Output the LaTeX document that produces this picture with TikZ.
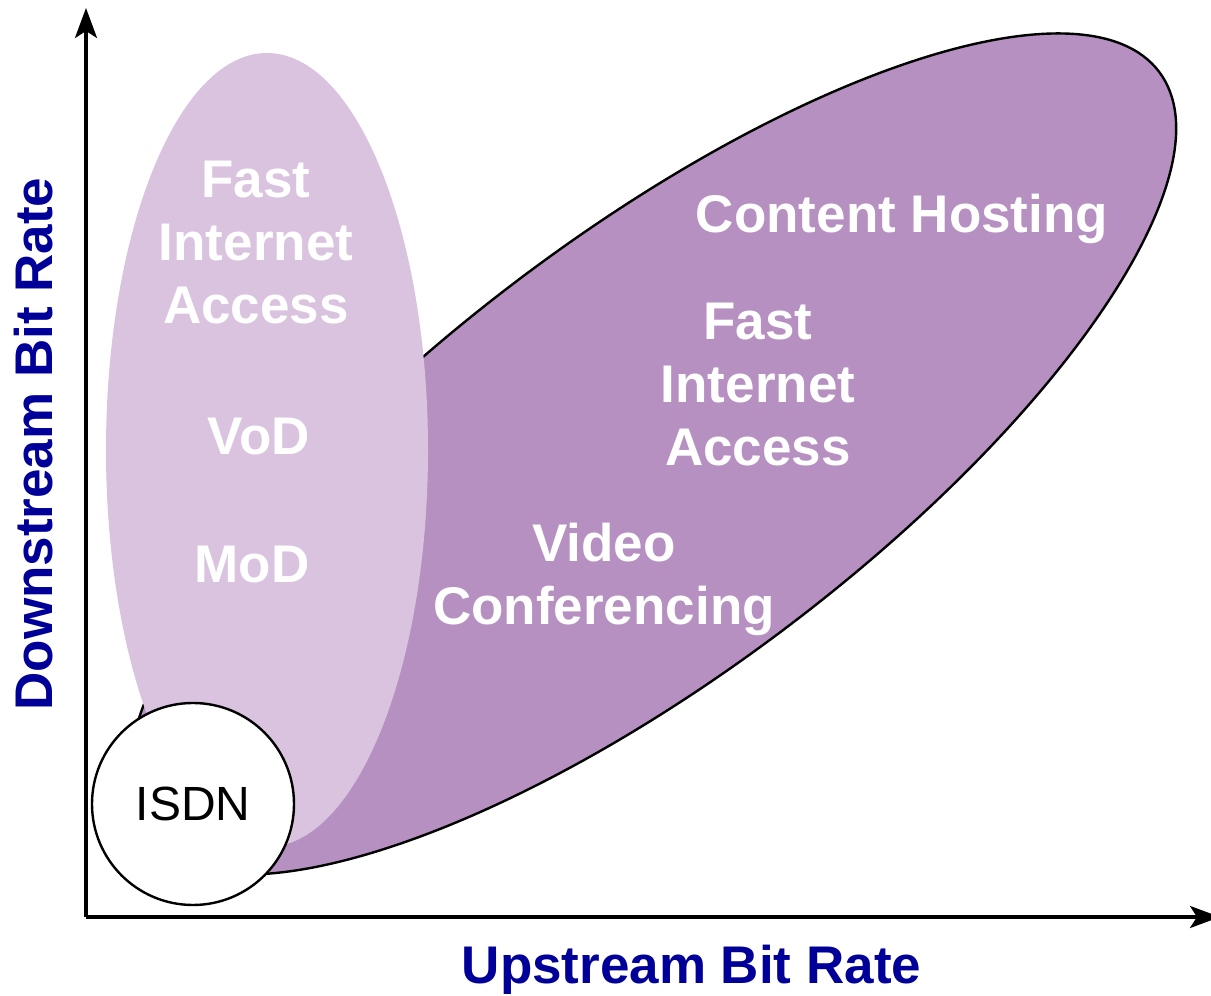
\documentclass[tikz,border=0pt]{standalone}
\usepackage{fontspec}
\setmainfont{Liberation Sans}
\usetikzlibrary{arrows.meta}
\definecolor{lightpurple}{RGB}{217,195,223}
\definecolor{darkpurple}{RGB}{181,144,192}
\definecolor{axisblue}{RGB}{0,0,153}
\begin{document}
\begin{tikzpicture}[x=0.5pt,y=0.5pt,
  biglabel/.style={text=white, font=\fontsize{26.5}{31.5}\selectfont\bfseries, anchor=base, inner sep=0pt},
  axislabel/.style={text=axisblue, font=\fontsize{26.5}{31.5}\selectfont\bfseries, anchor=base, inner sep=0pt},
  axisline/.style={line width=1.6pt, -{Stealth[length=15pt,width=11pt,inset=3.5pt]}},
  region/.style={line width=1.2pt},
]
\useasboundingbox (0,0) rectangle (1211,996);
% axes
\coordinate (O) at (86,79);
\coordinate (ytop) at (86,988);
\coordinate (xend) at (1220,79);
\draw[axisline] (O) -- (ytop);
\draw[axisline] (O) -- (xend);
% dark (symmetric-upstream) region
\filldraw[region, fill=darkpurple, draw=black, rotate around={37:(652,542)}]
  (652,542) ellipse [x radius=635, y radius=219.5];
% light (asymmetric) region
\fill[lightpurple] (267,546) ellipse [x radius=161, y radius=397];
% ISDN
\node[circle, draw=black, fill=white, region, minimum size=101pt, inner sep=0pt,
      font=\fontsize{24}{28}\selectfont] (isdn) at (193,192) {ISDN};
% labels in light region
\node[biglabel] (fia1) at (256,798) {\begin{tabular}[t]{@{}c@{}}Fast\\Internet\\Access\end{tabular}};
\node[biglabel] (vod) at (259,541) {VoD};
\node[biglabel] (mod) at (252,413) {MoD};
% labels in dark region
\node[biglabel] (hosting) at (902,763) {Content Hosting};
\node[biglabel] (fia2) at (758,656) {\begin{tabular}[t]{@{}c@{}}Fast\\Internet\\Access\end{tabular}};
\node[biglabel] (video) at (604,434) {\begin{tabular}[t]{@{}c@{}}Video\\Conferencing\end{tabular}};
% axis labels
\node[axislabel] (xlab) at (691.5,12) {Upstream Bit Rate};
\node[axislabel, rotate=90] (ylab) at (53,552) {Downstream Bit Rate};
\end{tikzpicture}
\end{document}
